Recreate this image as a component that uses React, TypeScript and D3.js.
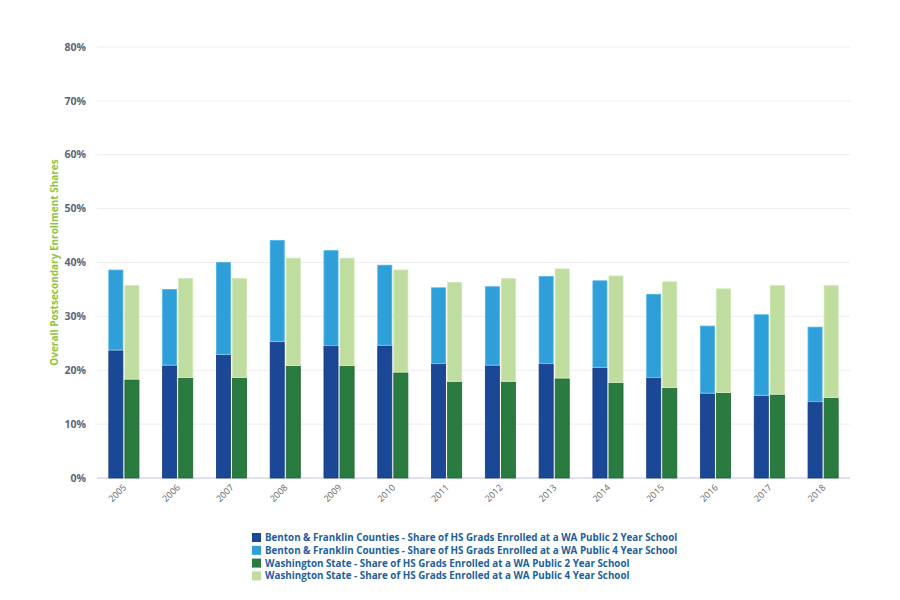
import React from "react";
import { scaleBand, scaleLinear } from "d3";

// Años y valores (porcentajes)
const years = ["2005", "2006", "2007", "2008", "2009", "2010", "2011", "2012", "2013", "2014", "2015", "2016", "2017", "2018"];
const bf2Year = [23.6, 20.8, 22.8, 25.2, 24.4, 24.5, 21.1, 20.8, 21.1, 20.4, 18.5, 15.6, 15.2, 14.0];
const bf4Year = [15.0, 14.2, 17.2, 18.9, 17.8, 15.0, 14.2, 14.7, 16.3, 16.2, 15.6, 12.6, 15.1, 14.0];
const wa2Year = [18.2, 18.5, 18.5, 20.7, 20.7, 19.5, 17.8, 17.8, 18.4, 17.6, 16.6, 15.7, 15.4, 14.8];
const wa4Year = [17.5, 18.5, 18.5, 20.1, 20.1, 19.1, 18.5, 19.2, 20.4, 19.9, 19.8, 19.4, 20.3, 20.9];
const yTicks = [0, 10, 20, 30, 40, 50, 60, 70, 80];

const legendItems = [
  { label: "Benton & Franklin Counties - Share of HS Grads Enrolled at a WA Public 2 Year School", color: "#1a4896" },
  { label: "Benton & Franklin Counties - Share of HS Grads Enrolled at a WA Public 4 Year School", color: "#2e9fd8" },
  { label: "Washington State - Share of HS Grads Enrolled at a WA Public 2 Year School", color: "#2a7b3f" },
  { label: "Washington State - Share of HS Grads Enrolled at a WA Public 4 Year School", color: "#bfdd9e" },
];

export default function App() {
  const width = 900;
  const height = 600;
  const margin = { top: 47, right: 50, bottom: 122, left: 97 };

  const x = scaleBand()
    .domain(years)
    .range([margin.left, width - margin.right])
    .paddingInner(0.44)
    .paddingOuter(0.22);

  const y = scaleLinear()
    .domain([0, 80])
    .range([height - margin.bottom, margin.top]);

  const barW = (x.bandwidth() - 2) / 2;
  const font = "'Open Sans', 'DejaVu Sans', sans-serif";

  return (
    <svg
      width={width}
      height={height}
      style={{ position: "absolute", left: 0, top: 0, fontFamily: font }}
    >
      <rect width={width} height={height} fill="#fff" />
      {/* Rejilla y eje Y */}
      {yTicks.map((t) => (
        <g key={t}>
          <line
            x1={margin.left}
            x2={width - margin.right}
            y1={y(t)}
            y2={y(t)}
            stroke={t === 0 ? "#dde2ee" : "#eceef3"}
            strokeWidth={t === 0 ? 2 : 1}
          />
          <text
            x={86}
            y={y(t)}
            dy="0.35em"
            textAnchor="end"
            fontSize={10.5}
            fontWeight="bold"
            fill="#5b6577"
          >
            {t}%
          </text>
        </g>
      ))}
      <text
        transform={`translate(58, ${(y(0) + y(80)) / 2}) rotate(-90)`}
        textAnchor="middle"
        fontSize={10}
        fontWeight="bold"
        fill="#8cc63f"
      >
        Overall Postsecondary Enrollment Shares
      </text>

      {/* Barras */}
      {years.map((yr, i) => {
        const x0 = x(yr)!;
        const x1 = x0 + barW + 2;
        return (
          <g key={yr}>
            <rect x={x0} y={y(bf2Year[i])} width={barW} height={y(0) - y(bf2Year[i])} fill="#1a4896" stroke="#123a80" strokeWidth={0.8} />
            <rect x={x0} y={y(bf2Year[i] + bf4Year[i])} width={barW} height={y(bf2Year[i]) - y(bf2Year[i] + bf4Year[i]) - 1} fill="#2e9fd8" stroke="#4fb3e6" strokeWidth={0.8} />
            <rect x={x1} y={y(wa2Year[i])} width={barW} height={y(0) - y(wa2Year[i])} fill="#2a7b3f" stroke="#1d6630" strokeWidth={0.8} />
            <rect x={x1} y={y(wa2Year[i] + wa4Year[i])} width={barW} height={y(wa2Year[i]) - y(wa2Year[i] + wa4Year[i]) - 1} fill="#bfdd9e" stroke="#cde6b2" strokeWidth={0.8} />
            <text
              transform={`translate(${x0 + x.bandwidth() / 2 + 3}, ${y(0) + 10}) rotate(-45)`}
              textAnchor="end"
              fontSize={9}
              fill="#666"
            >
              {yr}
            </text>
          </g>
        );
      })}

      {/* Leyenda */}
      {legendItems.map((d, i) => (
        <g key={d.label} transform={`translate(252, ${533 + i * 12.8})`}>
          <rect x={0} y={0} width={9} height={9} fill={d.color} />
          <text x={13} y={8} fontSize={9.8} fontWeight="bold" fill="#1d5f9e">
            {d.label}
          </text>
        </g>
      ))}
    </svg>
  );
}
